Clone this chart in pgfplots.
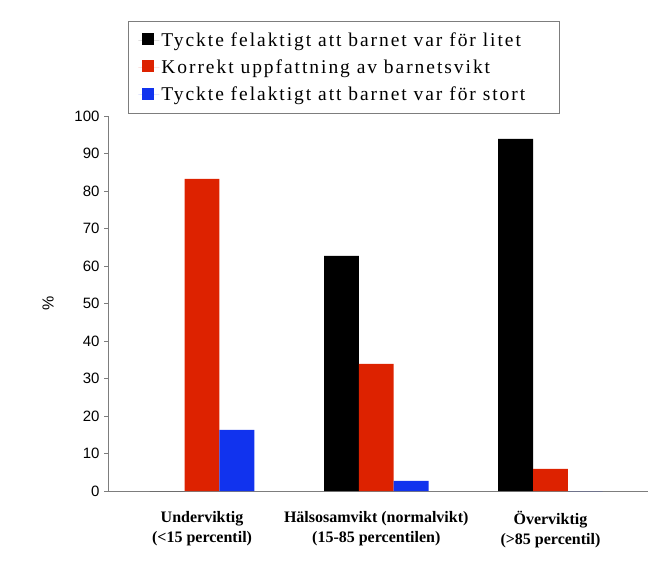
\documentclass[border=0pt]{standalone}
\usepackage{fontspec}
\setmainfont{Liberation Serif}
\newfontfamily\arial{Liberation Sans}
\newfontfamily\legfont[LetterSpace=10]{Liberation Serif}
\usepackage{pgfplots}
\pgfplotsset{compat=1.18}
\definecolor{cred}{RGB}{221,34,0}
\definecolor{cblue}{RGB}{17,51,238}
\definecolor{axgray}{RGB}{125,125,125}
\begin{document}
\begin{tikzpicture}[x=1pt,y=1pt]
\path[use as bounding box] (0,0) rectangle (672,568);
\begin{axis}[
  at={(108pt,77pt)}, anchor=south west,
  scale only axis, width=540pt, height=375pt,
  xmin=-0.54, xmax=2.56, ymin=0, ymax=100,
  axis x line*=bottom, axis y line*=left,
  axis line style={draw=axgray, line width=0.9pt, -},
  ybar, bar width=0.2,
  ytick={0,10,...,100},
  xtick={0,1,2},
  xticklabels={Underviktig\\(<15 percentil), Hälsosamvikt (normalvikt)\\(15-85 percentilen), Överviktig\\(>85 percentil)},
  major x tick style={draw=none},
  tick align=outside, major tick length=4pt,
  major y tick style={draw=axgray, line width=0.8pt},
  /pgf/number format/assume math mode=true,
  yticklabel style={font=\arial\fontsize{15}{15}\selectfont, xshift=-1pt},
  xticklabel style={font=\bfseries\fontsize{16}{20}\selectfont, align=center, yshift=-13pt},
  ylabel={\%},
  ylabel style={at={(axis description cs:-0.111,0.5)}, anchor=center, font=\arial\fontsize{16}{16}\selectfont},
  legend style={at={(0.037,1.253)}, anchor=north west, draw=axgray, line width=0.8pt,
    font=\legfont\fontsize{19.5}{19.5}\selectfont, legend cell align=left,
    inner xsep=10pt, inner ysep=9pt, row sep=8pt},
  legend image code/.code={\fill[#1] (4pt,-5pt) rectangle (16pt,7pt); \path (0pt,0pt) -- (21pt,0pt);},
]
\addplot[fill=black, draw=none, bar shift=-0.2] coordinates {(0,0) (1,62.7) (2,93.9)};
\addplot[fill=cred, draw=none, bar shift=0] coordinates {(0,83.2) (1,33.9) (2,5.9)};
\addplot[fill=cblue, draw=none, bar shift=0.2] coordinates {(0,16.3) (1,2.7) (2,0)};
\legend{Tyckte felaktigt att barnet var för litet, Korrekt uppfattning av barnetsvikt, {Tyckte felaktigt att barnet var för stort\hspace*{22pt}\mbox{}}}
\end{axis}
\end{tikzpicture}
\end{document}
